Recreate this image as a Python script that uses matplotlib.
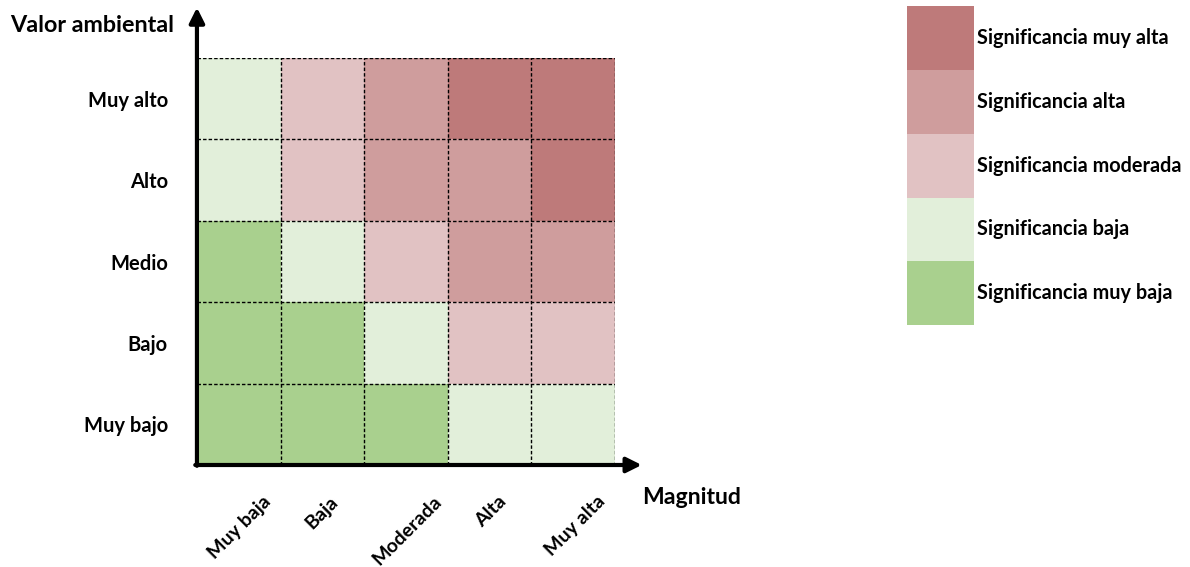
import matplotlib
matplotlib.use("Agg")
import numpy as np
import matplotlib.pyplot as plt
import matplotlib.transforms as mtransforms
from matplotlib.colors import ListedColormap

# Data
magnitud = ["Muy baja", "Baja", "Moderada", "Alta", "Muy alta"]
valor = ["Muy bajo", "Bajo", "Medio", "Alto", "Muy alto"]   # bottom -> top
niveles = ["Significancia muy baja", "Significancia baja", "Significancia moderada",
           "Significancia alta", "Significancia muy alta"]
# significance level per cell, rows bottom (Muy bajo) -> top (Muy alto)
matriz = [
    [0, 0, 0, 1, 1],
    [0, 0, 1, 2, 2],
    [0, 1, 2, 3, 3],
    [1, 2, 3, 3, 4],
    [1, 2, 3, 4, 4],
]
colores = ["#a9d08e", "#e2efda", "#e1c2c3", "#cf9d9d", "#be7a7a"]

plt.rcParams["font.family"] = ["Lato", "DejaVu Sans"]
plt.rcParams["font.weight"] = "bold"
cmap = ListedColormap(colores)

fig = plt.figure(figsize=(11.9, 5.67), dpi=100)
ax = fig.add_axes([0.1655, 0.1799, 0.3513, 0.7178])
ax.pcolormesh(np.arange(6), np.arange(6), np.array(matriz), cmap=cmap, vmin=-0.5, vmax=4.5)
ax.set_xlim(0, 5)
ax.set_ylim(0, 5)
for k in range(1, 6):
    ax.axhline(k, color="black", lw=1.0, ls=(0, (2.5, 1.5)), zorder=3)
    ax.axvline(k, color="black", lw=1.0, ls=(0, (2.5, 1.5)), zorder=3)
for s in ax.spines.values():
    s.set_visible(False)

ax.set_yticks(np.arange(5) + 0.5)
ax.set_yticklabels(valor, fontsize=14.5)
ax.set_xticks(np.arange(5) + 0.5)
ax.set_xticklabels(magnitud, fontsize=14, rotation=45, ha="right", va="top",
                   rotation_mode="anchor")
ax.tick_params(length=0, axis="y", pad=21)
ax.tick_params(length=0, axis="x", pad=20)

# the rotated labels sit to the right of their column centres in the original
shifts = [23, 7, 27, 8, 23]
for lab, dx in zip(ax.get_xticklabels(), shifts):
    lab.set_transform(lab.get_transform() +
                      mtransforms.ScaledTranslation(dx / 100, 0, fig.dpi_scale_trans))

# axis arrows
arrow = dict(arrowstyle="-|>,head_width=0.45,head_length=0.9", color="black", lw=3,
             shrinkA=0, shrinkB=0)
ax.annotate("", xy=(0, 5.62), xytext=(0, -0.01), arrowprops=arrow, annotation_clip=False)
ax.annotate("", xy=(5.32, 0), xytext=(-0.02, 0), arrowprops=arrow, annotation_clip=False)

fig.text(0.0085, 0.955, "Valor ambiental", fontsize=16.8, ha="left", va="center")
fig.text(0.540, 0.123, "Magnitud", fontsize=16.6, ha="left", va="center")

# legend
lax = fig.add_axes([0.7622, 0.4268, 0.0555, 0.5626])
lax.imshow(np.arange(5)[:, None], cmap=cmap, aspect="auto", origin="lower",
           extent=(0, 1, 0, 5), vmin=-0.5, vmax=4.5)
lax.set_xlim(0, 1)
lax.set_ylim(0, 5)
lax.axis("off")
for i, name in enumerate(niveles):
    lax.text(1.06, i + 0.5, name, fontsize=14.3, ha="left", va="center",
             transform=lax.transData, clip_on=False)

fig.savefig("out.png", dpi=100, facecolor="white")
